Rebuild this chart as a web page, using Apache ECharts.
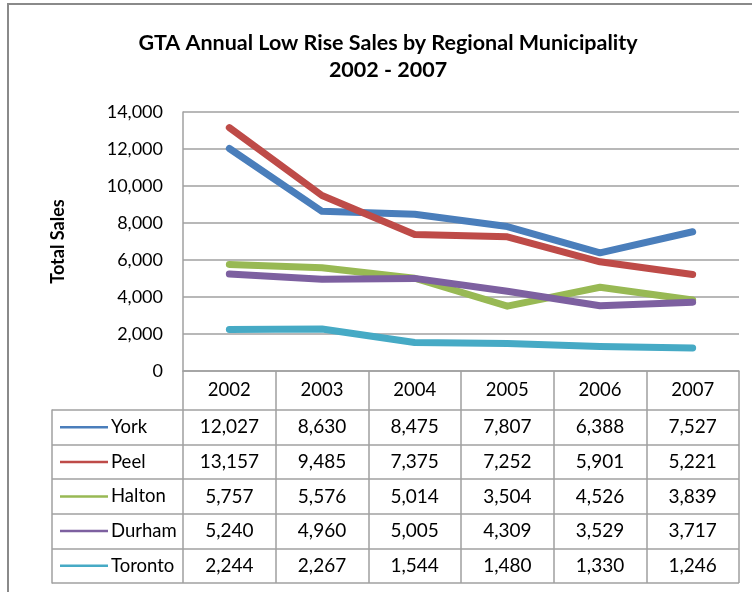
<!DOCTYPE html>
<html><head><meta charset="utf-8">
<script src="https://cdn.jsdelivr.net/npm/echarts@6/dist/echarts.min.js"></script>
<style>html,body{margin:0;padding:0;background:#fff}#c{width:752px;height:592px}</style>
</head><body><div id="c"></div>
<script>
// ---- data ----
const years = ['2002', '2003', '2004', '2005', '2006', '2007'];
const names = ['York', 'Peel', 'Halton', 'Durham', 'Toronto'];
const york = [12027, 8630, 8475, 7807, 6388, 7527];
const peel = [13157, 9485, 7375, 7252, 5901, 5221];
const halton = [5757, 5576, 5014, 3504, 4526, 3839];
const durham = [5240, 4960, 5005, 4309, 3529, 3717];
const toronto = [2244, 2267, 1544, 1480, 1330, 1246];
const titleLine1 = 'GTA Annual Low Rise Sales by Regional Municipality';
const titleLine2 = '2002 - 2007';
const yAxisName = 'Total Sales';

// ---- styling ----
const FONT = 'Lato, "Open Sans", sans-serif';
const colors = ['#4A7EBB', '#BE4B48', '#98B954', '#7D60A0', '#46AAC5'];
const GRID_C = '#a0a0a0';
const allSeries = [york, peel, halton, durham, toronto];
const fmt = v => v.toLocaleString('en-US');

const tableData = [];
allSeries.forEach((arr, r) => arr.forEach((v, c) => tableData.push([c, r, v])));
const headerData = names.map((n, r) => [0, r]);

const chart = echarts.init(document.getElementById('c'), null, {renderer: 'canvas'});
chart.setOption({
  backgroundColor: '#fff',
  animation: false,
  graphic: [
    {type: 'rect', shape: {x: 8, y: 4, width: 800, height: 700}, style: {fill: 'none', stroke: '#8a8a8a', lineWidth: 2}, z: 0},
    {type: 'text', x: 388, y: 43, style: {text: titleLine1, font: 'bold 21.5px ' + FONT, fill: '#000', align: 'center', verticalAlign: 'middle'}},
    {type: 'text', x: 388, y: 70, style: {text: titleLine2, font: 'bold 21.5px ' + FONT, fill: '#000', align: 'center', verticalAlign: 'middle'}}
  ],
  grid: [
    {left: 183, right: 13, top: 112, bottom: 221},
    {left: 183, right: 13, top: 410, bottom: 9},
    {left: 52, width: 131, top: 410, bottom: 9}
  ],
  xAxis: [
    {gridIndex: 0, type: 'category', data: years, boundaryGap: true,
      axisLine: {show: true, lineStyle: {color: GRID_C, width: 1.5}},
      axisTick: {show: true, interval: 0, length: 212, alignWithLabel: false, lineStyle: {color: GRID_C, width: 1.5}},
      axisLabel: {margin: 10, fontSize: 18.5, fontFamily: FONT, color: '#000', interval: 0},
      splitLine: {show: false}},
    {gridIndex: 1, type: 'category', data: years, show: false},
    {gridIndex: 2, type: 'value', min: 0, max: 1, show: false}
  ],
  yAxis: [
    {gridIndex: 0, type: 'value', min: 0, max: 14000, interval: 2000,
      name: yAxisName, nameLocation: 'middle', nameRotate: 90, nameGap: 116,
      nameTextStyle: {fontSize: 18, fontWeight: 'bold', fontFamily: FONT, color: '#000'},
      axisLine: {show: true, lineStyle: {color: GRID_C, width: 1.5}},
      axisTick: {show: false},
      axisLabel: {margin: 20, fontSize: 18, fontFamily: FONT, color: '#000', formatter: v => fmt(v)},
      splitLine: {show: true, lineStyle: {color: GRID_C, width: 1.5}}},
    {gridIndex: 1, type: 'category', data: names, inverse: true,
      axisLine: {show: false}, axisTick: {show: false}, axisLabel: {show: false},
      splitLine: {show: true, interval: 0, lineStyle: {color: GRID_C, width: 1.5}}},
    {gridIndex: 2, type: 'category', data: names, inverse: true,
      axisLine: {show: true, lineStyle: {color: GRID_C, width: 1.5}}, axisTick: {show: false}, axisLabel: {show: false},
      splitLine: {show: true, interval: 0, lineStyle: {color: GRID_C, width: 1.5}}}
  ],
  series: [
    ...names.map((n, i) => ({
      name: n, type: 'line', xAxisIndex: 0, yAxisIndex: 0, data: allSeries[i],
      showSymbol: false, symbol: 'none', smooth: false,
      lineStyle: {color: colors[i], width: 7, cap: 'round', join: 'round'},
      z: 2 + i
    })),
    {type: 'custom', xAxisIndex: 1, yAxisIndex: 1, data: tableData, clip: false,
      renderItem: (params, api) => {
        const p = api.coord([api.value(0), api.value(1)]);
        return {type: 'text', x: p[0], y: p[1],
          style: {text: fmt(api.value(2)), font: '19px ' + FONT, fill: '#000', align: 'center', verticalAlign: 'middle'}};
      }},
    {type: 'custom', xAxisIndex: 2, yAxisIndex: 2, data: headerData, clip: false,
      renderItem: (params, api) => {
        const r = api.value(1);
        const p = api.coord([0, r]);
        return {type: 'group', children: [
          {type: 'line', shape: {x1: p[0] + 8, y1: p[1], x2: p[0] + 56, y2: p[1]}, style: {stroke: colors[r], lineWidth: 2.5}},
          {type: 'text', x: p[0] + 59, y: p[1], style: {text: names[r], font: '18.5px ' + FONT, fill: '#000', align: 'left', verticalAlign: 'middle'}}
        ]};
      }}
  ]
});
</script></body></html>
